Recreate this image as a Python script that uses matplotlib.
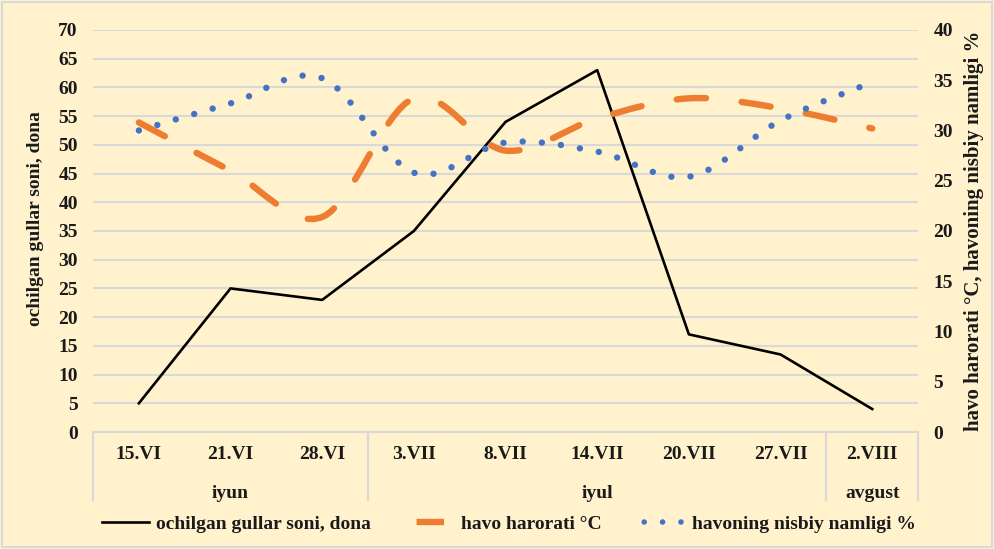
import matplotlib
matplotlib.use("Agg")
import matplotlib.pyplot as plt
from matplotlib.path import Path
from matplotlib.patches import PathPatch, Rectangle
from matplotlib.lines import Line2D
import numpy as np

dates = ["15.VI", "21.VI", "28.VI", "3.VII", "8.VII", "14.VII", "20.VII", "27.VII", "2.VIII"]
months = ["iyun", "iyul", "avgust"]
month_span = [(0, 3), (3, 8), (8, 9)]

gullar = [5, 25, 23, 35, 54, 63, 17, 13.5, 4]
harorat = [30.8, 26.0, 21.4, 33.2, 28.0, 31.2, 33.2, 32.2, 30.2]
namlik = [30.0, 32.7, 35.2, 25.8, 28.8, 27.9, 25.4, 31.0, 34.8]

name_gullar = "ochilgan gullar soni, dona"
name_harorat = "havo harorati °C"
name_namlik = "havoning nisbiy namligi %"

bg = "#FFF2CC"
grid_c = "#D9D9D9"
txt = "#1a1a1a"
orange = "#ED7D31"
blue = "#4472C4"

plt.rcParams['font.family'] = ['Liberation Serif', 'DejaVu Serif']
plt.rcParams['font.weight'] = 'bold'
plt.rcParams['axes.labelweight'] = 'bold'
fs = 14


def smooth_path(xs, ys):
    # Excel-like smoothed line: Catmull-Rom turned into cubic bezier segments
    pts = np.column_stack([xs, ys]).astype(float)
    n = len(pts)
    verts = [pts[0]]
    codes = [Path.MOVETO]
    for i in range(n - 1):
        p0 = pts[i - 1] if i > 0 else pts[i]
        p1 = pts[i]
        p2 = pts[i + 1]
        p3 = pts[i + 2] if i + 2 < n else pts[i + 1]
        c1 = p1 + (p2 - p0) / 6.0
        c2 = p2 - (p3 - p1) / 6.0
        verts += [c1, c2, p2]
        codes += [Path.CURVE4] * 3
    return Path(verts, codes)


fig = plt.figure(figsize=(9.94, 5.49), dpi=100, facecolor=bg)
ax = fig.add_axes([0.0936, 0.2131, 0.83, 0.7323])
ax.set_facecolor(bg)
ax2 = ax.twinx()

x = np.arange(len(dates))

ax.plot(x, gullar, color="black", lw=1.9, zorder=3)

hp = PathPatch(smooth_path(x, harorat), facecolor="none", edgecolor=orange,
               lw=4.6, linestyle=(0, (4.6, 5.6)), capstyle="round", zorder=3)
ax2.add_patch(hp)
npth = PathPatch(smooth_path(x, namlik), facecolor="none", edgecolor=blue,
                 lw=4.6, linestyle=(0, (0.01, 3.0)), capstyle="round", zorder=4)
ax2.add_patch(npth)

ax.set_xlim(-0.5, len(dates) - 0.5)
ax.set_ylim(0, 70)
ax.set_yticks(np.arange(0, 71, 5))
ax2.set_ylim(0, 40)
ax2.set_yticks(np.arange(0, 41, 5))

ax.grid(axis="y", color=grid_c, lw=1.5)
ax.set_axisbelow(True)
for a in (ax, ax2):
    for s in a.spines.values():
        s.set_visible(False)
ax.spines["bottom"].set_visible(True)
ax.spines["bottom"].set_color(grid_c)
ax.spines["bottom"].set_linewidth(1.5)

ax.tick_params(axis="y", length=0, pad=11, labelsize=fs, labelcolor=txt)
ax2.tick_params(axis="y", length=0, pad=11, labelsize=fs, labelcolor=txt)
ax.set_xticks(x)
ax.set_xticklabels(dates)
ax.tick_params(axis="x", length=0, pad=10, labelsize=fs, labelcolor=txt)

ax.set_ylabel(name_gullar, fontsize=14, color=txt, labelpad=4)
ax.yaxis.set_label_coords(-0.06, 0.53)
ax2.set_ylabel("havo harorati °C, havoning nisbiy namligi %", fontsize=15,
               color=txt, rotation=90, labelpad=8)

# two-level category table below the plot
tr = ax.get_xaxis_transform()
bot = -0.169
edges = [-0.5] + [e - 0.5 for _, e in month_span]
for e in edges:
    ax.plot([e, e], [0, bot], transform=tr, color=grid_c, lw=1.5, clip_on=False)
for m, (s, e) in zip(months, month_span):
    ax.text((s + e - 1) / 2.0, -0.152, m, transform=tr, ha="center", va="center",
            fontsize=fs, color=txt)

handles = [
    Line2D([], [], color="black", lw=1.9),
    Line2D([], [], color=orange, lw=4.6, linestyle=(5.8, (4.3, 3.0))),
    Line2D([], [], color=blue, lw=4.0, linestyle=(2.2, (0.01, 3.3)), dash_capstyle="round"),
]
fig.legend(handles, [name_gullar, name_harorat, name_namlik], loc="center",
           bbox_to_anchor=(0.512, 0.045), ncol=3, frameon=False, fontsize=fs,
           handlelength=2.4, columnspacing=1.9, handletextpad=0.35,
           labelcolor=txt)

fig.patches.append(Rectangle((0.002, 0.003), 0.996, 0.994, transform=fig.transFigure,
                             fill=False, edgecolor=grid_c, lw=1.5))

fig.savefig("out.png", dpi=100, facecolor=bg)
